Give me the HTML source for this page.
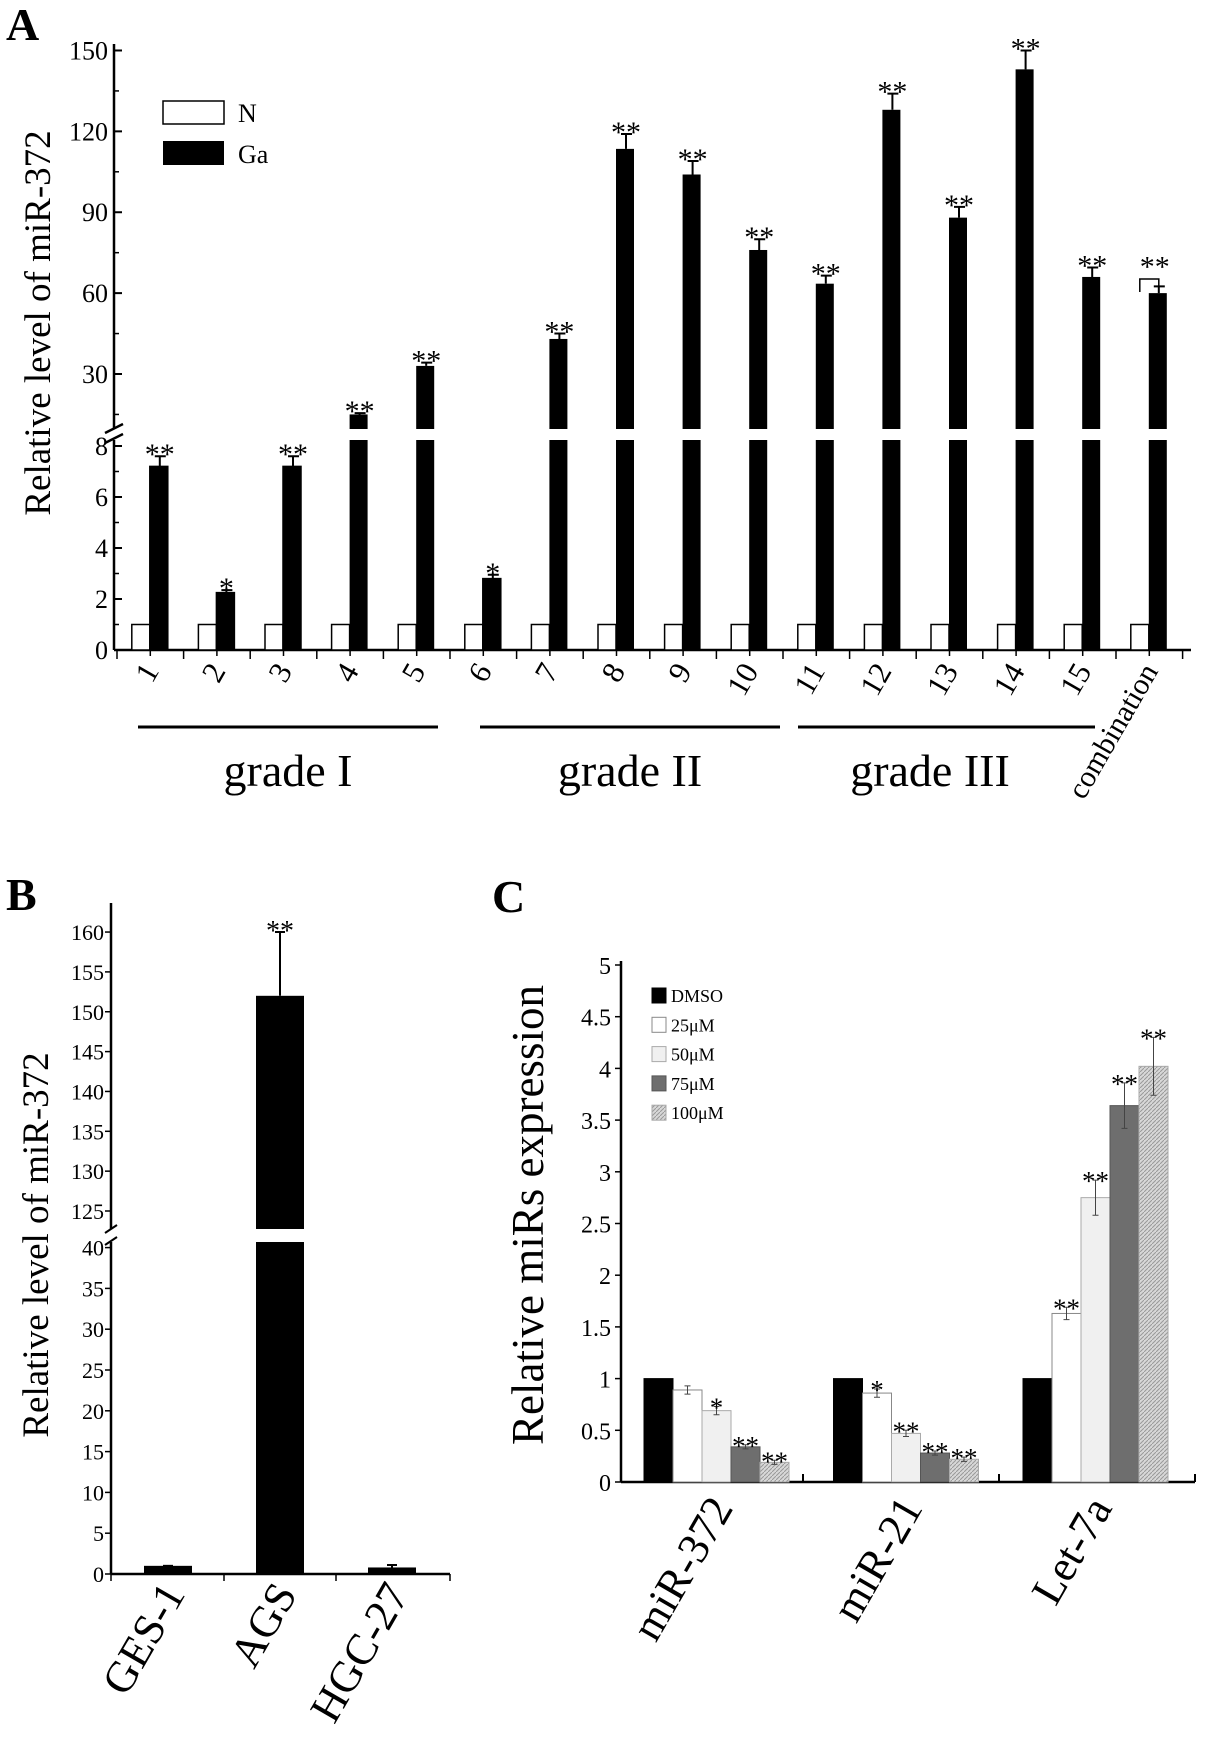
<!DOCTYPE html>
<html><head><meta charset="utf-8">
<style>
html,body{margin:0;padding:0;background:#fff;}
svg{display:block;font-family:"Liberation Serif",serif;}
</style></head>
<body>
<svg id="fig" width="1205" height="1743" viewBox="0 0 1205 1743" xmlns="http://www.w3.org/2000/svg">
<defs>
<pattern id="hatch" width="4" height="4" patternUnits="userSpaceOnUse">
<rect width="4" height="4" fill="#d8d8d8"/><path d="M0,4 L4,0" stroke="#999" stroke-width="1"/>
</pattern>
</defs>
<text x="6" y="40" font-size="46" font-weight="bold">A</text>
<text x="6" y="910" font-size="46" font-weight="bold">B</text>
<text x="492" y="912" font-size="46" font-weight="bold">C</text>
<g id="A"></g>
<g id="B"></g>
<g id="C"></g>
</svg>
<script>
// ---- Panel A data ----
const aCategories = ["1","2","3","4","5","6","7","8","9","10","11","12","13","14","15","combination"];
const aNormal = [1,1,1,1,1,1,1,1,1,1,1,1,1,1,1,1];
const aGa = [7.2,2.25,7.2,15,33,2.8,43,113.5,104,76,63.5,128,88,143,66,60];
const aGaErr = [0.4,0.1,0.4,0.5,1.2,0.15,2,5.5,5,4,3,6,4,7,3.5,2.5];
const aStars = ["**","*","**","**","**","*","**","**","**","**","**","**","**","**","**","**"];
const aLowTicks = [0,2,4,6,8];
const aHighTicks = [30,60,90,120,150];
// ---- Panel B data ----
const bCategories = ["GES-1","AGS","HGC-27"];
const bValues = [1,152,0.8];
const bErr = [0,8,0.3];
const bStars = ["","**",""];
const bLowTicks = [0,5,10,15,20,25,30,35,40];
const bHighTicks = [125,130,135,140,145,150,155,160];
// ---- Panel C data ----
const cCategories = ["miR-372","miR-21","Let-7a"];
const cSeries = ["DMSO","25\u03bcM","50\u03bcM","75\u03bcM","100\u03bcM"];
const cDMSO = [1,1,1];
const c25 = [0.89,0.86,1.63];
const c50 = [0.69,0.47,2.75];
const c75 = [0.34,0.28,3.64];
const c100 = [0.19,0.22,4.02];
const c25Err = [0.04,0.04,0.06];
const c50Err = [0.04,0.03,0.17];
const c75Err = [0.02,0.02,0.22];
const c100Err = [0.02,0.02,0.28];
const cStars25 = ["","*","**"];
const cStars50 = ["*","**","**"];
const cStars75 = ["**","**","**"];
const cStars100 = ["**","**","**"];
const cTicks = [0,0.5,1,1.5,2,2.5,3,3.5,4,4.5,5];

const NS="http://www.w3.org/2000/svg";
function mk(parent,tag,attrs,txt){const e=document.createElementNS(NS,tag);for(const k in attrs)e.setAttribute(k,attrs[k]);if(txt!==undefined)e.textContent=txt;parent.appendChild(e);return e;}

// ================= Panel A =================
(function(){
const g=document.getElementById('A');
const X0=114,X1=1191,gw=66.6,gStart=117;
const bw=18;
const yLow=v=>650-v*25.5;
const yHigh=v=>374-(v-30)*2.696;
const BRK_LO=440,BRK_HI=429;
let e=mk(g,'line',{x1:X0,y1:650,x2:X0,y2:BRK_LO,stroke:'#000','stroke-width':2.5});

e=mk(g,'line',{x1:X0,y1:BRK_HI,x2:X0,y2:44,stroke:'#000','stroke-width':2.5});

e=mk(g,'path',{d:`M${X0-9},${BRK_LO+3} L${X0+9},${BRK_LO-6} M${X0-9},${BRK_HI+4} L${X0+9},${BRK_HI-5}`,stroke:'#000','stroke-width':2.5,fill:'none'});

aLowTicks.forEach(t=>{const y=yLow(t);
 mk(g,'line',{x1:X0,y1:y,x2:X0+8,y2:y,stroke:'#000','stroke-width':2});
 if(t<8)mk(g,'line',{x1:X0,y1:yLow(t+1),x2:X0+5,y2:yLow(t+1),stroke:'#000','stroke-width':1.5});
 e=mk(g,'text',{x:X0-6,y:y+9,'font-size':26,'text-anchor':'end'},String(t));
 });
aHighTicks.forEach(t=>{const y=yHigh(t);
 mk(g,'line',{x1:X0,y1:y,x2:X0+8,y2:y,stroke:'#000','stroke-width':2});
 const ym=yHigh(t-15); if(ym<BRK_HI) mk(g,'line',{x1:X0,y1:ym,x2:X0+5,y2:ym,stroke:'#000','stroke-width':1.5});
 e=mk(g,'text',{x:X0-6,y:y+9,'font-size':26,'text-anchor':'end'},String(t));
 });
e=mk(g,'line',{x1:X0,y1:650,x2:X1,y2:650,stroke:'#000','stroke-width':2.5});

for(let i=0;i<=32;i++){const x=gStart+i*gw/2;mk(g,'line',{x1:x,y1:650,x2:x,y2:i%2?656:659,stroke:'#000','stroke-width':1.5});}
e=mk(g,'text',{x:0,y:0,'font-size':37,'text-anchor':'middle',transform:'translate(50,323) rotate(-90)'},'Relative level of miR-372');

function barSeg(x,v,fill,name){
 if(v<=8.4){const r=mk(g,'rect',{x:x,y:yLow(v),width:bw,height:650-yLow(v),fill:fill,stroke:'#000','stroke-width':1.5});
   return yLow(v);}
 let r=mk(g,'rect',{x:x,y:BRK_LO,width:bw,height:650-BRK_LO,fill:fill,stroke:fill==='#000'?'none':'#000'});
 
 const yt=yHigh(v);
 r=mk(g,'rect',{x:x,y:yt,width:bw,height:BRK_HI-yt,fill:fill});
 
 return yt;}
function valY(v){return v<=8.4?yLow(v):yHigh(v);}
aCategories.forEach((c,i)=>{
 const cx=gStart+gw*i+gw/2-0.5;
 barSeg(cx-bw,aNormal[i],'#fff','a-bar-n-'+(i+1));
 const yt=barSeg(cx,aGa[i],'#000','a-bar-ga-'+(i+1));
 const ye=valY(aGa[i]+aGaErr[i]);
 const bx=cx+bw/2+1;
 e=mk(g,'path',{d:`M${bx},${yt} L${bx},${ye} M${bx-5},${ye} L${bx+6},${ye}`,stroke:'#000','stroke-width':2,fill:'none'});
 
 const isComb=(i===aCategories.length-1);
 const sx=isComb?bx-4:bx;
 const sy=isComb?Math.min(ye,valY(aGa[i]+aGaErr[i])-6)-4:ye+8;
 e=mk(g,'text',{x:sx,y:sy,'font-size':30,'text-anchor':'middle'},aStars[i]);
 
 const lx=cx+10, ly=671;
 e=mk(g,'text',{x:0,y:0,'font-size':c.length>3?30:31,'text-anchor':'end',transform:`translate(${lx},${ly}) rotate(-60)`},c);
 
});
const cxl=gStart+gw*15+gw/2-0.5;
e=mk(g,'path',{d:`M${cxl-9},${292} L${cxl-9},${279} L${cxl+10},${279} L${cxl+10},${287}`,stroke:'#000','stroke-width':1.5,fill:'none'});

[[138,438,'grade  I',288],[480,780,'grade  II',630],[798,1095,'grade  III',930]].forEach((d,k)=>{
 e=mk(g,'line',{x1:d[0],y1:727,x2:d[1],y2:727,stroke:'#000','stroke-width':3});
 
 e=mk(g,'text',{x:d[3],y:786,'font-size':46,'text-anchor':'middle','xml:space':'preserve'},d[2]);
 });
e=mk(g,'rect',{x:163,y:101,width:61,height:23,fill:'#fff',stroke:'#000','stroke-width':1.5});

e=mk(g,'text',{x:238,y:122,'font-size':26},'N');

e=mk(g,'rect',{x:163,y:141,width:61,height:24,fill:'#000'});

e=mk(g,'text',{x:238,y:163,'font-size':26},'Ga');

})();

// ================= Panel B =================
(function(){
const g=document.getElementById('B');
const X0=111,X1=450,Y0=1574;
const yLow=v=>Y0-v*8.16;
const yHigh=v=>1211-(v-125)*7.97;
const BRK_LO=1242,BRK_HI=1229;
let e=mk(g,'line',{x1:X0,y1:Y0,x2:X0,y2:BRK_LO,stroke:'#000','stroke-width':2.5});

e=mk(g,'line',{x1:X0,y1:BRK_HI,x2:X0,y2:903,stroke:'#000','stroke-width':2.5});

e=mk(g,'path',{d:`M${X0-6},${BRK_LO+3} L${X0+6},${BRK_LO-5} M${X0-6},${BRK_HI+4} L${X0+6},${BRK_HI-4}`,stroke:'#000','stroke-width':2,fill:'none'});

bLowTicks.forEach(t=>{const y=yLow(t);mk(g,'line',{x1:X0-6,y1:y,x2:X0,y2:y,stroke:'#000','stroke-width':1.5});
 e=mk(g,'text',{x:X0-7,y:y+8,'font-size':22,'text-anchor':'end'},String(t));
 });
bHighTicks.forEach(t=>{const y=yHigh(t);mk(g,'line',{x1:X0-6,y1:y,x2:X0,y2:y,stroke:'#000','stroke-width':1.5});
 e=mk(g,'text',{x:X0-7,y:y+8,'font-size':22,'text-anchor':'end'},String(t));
 });
e=mk(g,'line',{x1:X0,y1:Y0,x2:X1,y2:Y0,stroke:'#000','stroke-width':2.5});

[111,224,336,450].forEach(x=>mk(g,'line',{x1:x,y1:Y0,x2:x,y2:Y0+7,stroke:'#000','stroke-width':1.5}));
e=mk(g,'text',{x:0,y:0,'font-size':37,'text-anchor':'middle',transform:'translate(48,1245) rotate(-90)'},'Relative level of miR-372');

bCategories.forEach((c,i)=>{
 const cx=168+i*112, bw=48;
 let yt;
 if(bValues[i]<=40.7){yt=yLow(bValues[i]);
  e=mk(g,'rect',{x:cx-bw/2,y:yt,width:bw,height:Y0-yt,fill:'#000'});
  }
 else{e=mk(g,'rect',{x:cx-bw/2,y:BRK_LO,width:bw,height:Y0-BRK_LO,fill:'#000'});
  
  yt=yHigh(bValues[i]);
  e=mk(g,'rect',{x:cx-bw/2,y:yt,width:bw,height:BRK_HI-yt,fill:'#000'});
  }
 const v2=bValues[i]+bErr[i]; const ye=v2<=40.7?yLow(v2):yHigh(v2);
 e=mk(g,'path',{d:`M${cx},${yt} L${cx},${ye} M${cx-5},${ye} L${cx+5},${ye}`,stroke:'#000','stroke-width':2,fill:'none'});
 
 if(bStars[i]){e=mk(g,'text',{x:cx,y:ye+8,'font-size':28,'text-anchor':'middle'},bStars[i]);
  }
 e=mk(g,'text',{x:0,y:0,'font-size':44,'text-anchor':'end',transform:`translate(${cx+18},${1594}) rotate(-60)`},c);
 
});
})();

// ================= Panel C =================
(function(){
const g=document.getElementById('C');
const X0=621,X1=1195,Y0=1482;
const y=v=>Y0-v*103.4;
let e=mk(g,'line',{x1:X0,y1:Y0,x2:X0,y2:y(5)-4,stroke:'#000','stroke-width':2.5});

cTicks.forEach(t=>{const yy=y(t);mk(g,'line',{x1:X0-6,y1:yy,x2:X0,y2:yy,stroke:'#000','stroke-width':1.5});
 e=mk(g,'text',{x:X0-10,y:yy+9,'font-size':24,'text-anchor':'end'},String(t));
 });
e=mk(g,'line',{x1:X0,y1:Y0,x2:X1,y2:Y0,stroke:'#000','stroke-width':2.5});

[803,999,1195].forEach(x=>mk(g,'line',{x1:x,y1:Y0,x2:x,y2:Y0-8,stroke:'#000','stroke-width':2}));
e=mk(g,'text',{x:0,y:0,'font-size':45,'text-anchor':'middle',transform:'translate(543,1215) rotate(-90)'},'Relative miRs expression');

const series=[cDMSO,c25,c50,c75,c100];
const errs=[null,c25Err,c50Err,c75Err,c100Err];
const stars=[null,cStars25,cStars50,cStars75,cStars100];
const fills=['#000','#fff','#f0f0f0','#6e6e6e','url(#hatch)'];
const strokes=['#000','#888','#aaa','#555','#aaa'];
cCategories.forEach((c,i)=>{
 const gx=644+i*189.5, bw=29;
 series.forEach((s,k)=>{
  const x=gx+k*bw, yt=y(s[i]);
  e=mk(g,'rect',{x:x,y:yt,width:bw,height:Y0-yt,fill:fills[k],stroke:strokes[k],'stroke-width':1});
  
  if(errs[k]){const ye=y(s[i]+errs[k][i]),yb=y(s[i]-errs[k][i]),cx=x+bw/2;
   e=mk(g,'path',{d:`M${cx},${yb} L${cx},${ye} M${cx-3},${ye} L${cx+3},${ye} M${cx-3},${yb} L${cx+3},${yb}`,stroke:'#444','stroke-width':1,fill:'none'});
   
   if(stars[k][i]){e=mk(g,'text',{x:cx,y:ye+10,'font-size':27,'text-anchor':'middle'},stars[k][i]);
    }}
 });
 e=mk(g,'text',{x:0,y:0,'font-size':44,'text-anchor':'end',transform:`translate(${gx+90},${1508}) rotate(-60)`},c);
 
});
cSeries.forEach((s,k)=>{
 const yy=988+k*29.3;
 e=mk(g,'rect',{x:652,y:yy,width:14,height:15,fill:fills[k],stroke:strokes[k],'stroke-width':1});
 
 e=mk(g,'text',{x:671,y:yy+14,'font-size':18},s);
 
});
})();
</script>
</body></html>
